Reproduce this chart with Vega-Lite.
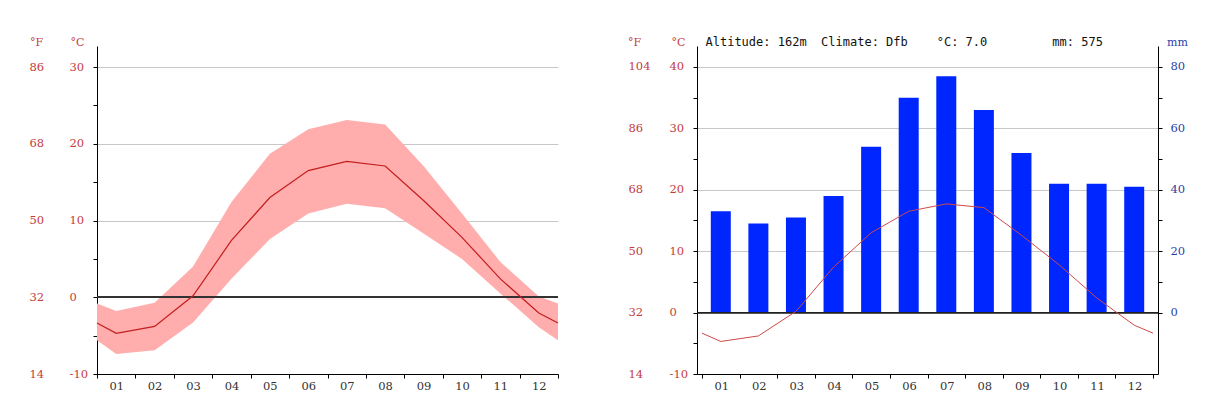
{
  "$schema": "https://vega.github.io/schema/vega-lite/v6.json",
  "background": "white",
  "padding": {"left": 29, "top": 35, "right": 10, "bottom": 10},
  "config": {
    "view": {"stroke": null},
    "font": "DejaVu Serif",
    "axis": {"labelFont": "DejaVu Serif", "titleFont": "DejaVu Serif", "domainColor": "#000", "tickColor": "#000", "titleFontWeight": "normal", "labelFontSize": 11.5, "titleFontSize": 11}
  },
  "data": {"values": [
    {"month": 0.5, "tmean": -3.35, "tmax": -0.8, "tmin": -5.6, "precip": null},
    {"month": 1, "tmean": -4.7, "tmax": -1.8, "tmin": -7.4, "precip": 33},
    {"month": 2, "tmean": -3.8, "tmax": -0.7, "tmin": -6.9, "precip": 29},
    {"month": 3, "tmean": 0.2, "tmax": 4.0, "tmin": -3.3, "precip": 31},
    {"month": 4, "tmean": 7.4, "tmax": 12.4, "tmin": 2.4, "precip": 38},
    {"month": 5, "tmean": 13.0, "tmax": 18.7, "tmin": 7.6, "precip": 54},
    {"month": 6, "tmean": 16.5, "tmax": 21.9, "tmin": 10.9, "precip": 70},
    {"month": 7, "tmean": 17.7, "tmax": 23.1, "tmin": 12.2, "precip": 77},
    {"month": 8, "tmean": 17.1, "tmax": 22.5, "tmin": 11.6, "precip": 66},
    {"month": 9, "tmean": 12.6, "tmax": 17.1, "tmin": 8.3, "precip": 52},
    {"month": 10, "tmean": 7.8, "tmax": 10.9, "tmin": 5.0, "precip": 42},
    {"month": 11, "tmean": 2.4, "tmax": 4.6, "tmin": 0.5, "precip": 42},
    {"month": 12, "tmean": -2.05, "tmax": 0.1, "tmin": -3.9, "precip": 41},
    {"month": 12.5, "tmean": -3.35, "tmax": -0.8, "tmin": -5.6, "precip": null}
  ]},
  "spacing": 49,
  "hconcat": [
    {
      "width": 461,
      "height": 328,
      "layer": [
        {
          "mark": {"type": "area", "color": "#ffadad", "opacity": 1},
          "encoding": {
            "x": {"field": "month", "type": "quantitative", "scale": {"domain": [0.5, 12.5], "nice": false, "zero": false},
              "axis": {"values": [0.5, 1.5, 2.5, 3.5, 4.5, 5.5, 6.5, 7.5, 8.5, 9.5, 10.5, 11.5, 12.5], "labelExpr": "datum.value < 12 ? ((datum.value + 0.5 < 10 ? '0' : '') + (datum.value + 0.5)) : ''", "labelOffset": 19.2, "tickSize": 4, "labelPadding": 2, "labelColor": "#333", "grid": false, "title": null, "labelOverlap": false, "labelBound": false, "labelFlush": false}},
            "y": {"field": "tmax", "type": "quantitative", "scale": {"domain": [-10, 32.74], "nice": false, "zero": false},
              "axis": {"orient": "left", "values": [-10, -5, 0, 5, 10, 15, 20, 25, 30], "labelExpr": "datum.value % 10 == 0 ? '' + datum.value : ''", "labelAlign": "left", "labelBaseline": "middle", "tickSize": 4, "labelPadding": 24, "labelColor": "#c43c3c", "title": "°C", "titleAngle": 0, "titleAlign": "center", "titleBaseline": "alphabetic", "titleX": -20, "titleY": -1, "titleColor": "#c43c3c", "grid": true, "gridColor": "#c8c8c8", "gridOpacity": {"condition": {"test": "datum.value % 10 == 0 && datum.value > 0", "value": 1}, "value": 0}, "labelOverlap": false, "labelFlush": false}},
            "y2": {"field": "tmin"}
          }
        },
        {
          "mark": {"type": "rule", "color": "#333", "strokeWidth": 1},
          "encoding": {"y": {"datum": 0, "type": "quantitative", "scale": {"domain": [-10, 32.74], "nice": false, "zero": false}, "axis": null}}
        },
        {
          "mark": {"type": "line", "color": "#c41e1e", "strokeWidth": 1.2},
          "encoding": {
            "x": {"field": "month", "type": "quantitative", "scale": {"domain": [0.5, 12.5], "nice": false, "zero": false},
              "axis": {"values": [0.5, 1.5, 2.5, 3.5, 4.5, 5.5, 6.5, 7.5, 8.5, 9.5, 10.5, 11.5, 12.5], "labelExpr": "datum.value < 12 ? ((datum.value + 0.5 < 10 ? '0' : '') + (datum.value + 0.5)) : ''", "labelOffset": 19.2, "tickSize": 4, "labelPadding": 2, "labelColor": "#333", "grid": false, "title": null, "labelOverlap": false, "labelBound": false, "labelFlush": false}},
            "y": {"field": "tmean", "type": "quantitative", "scale": {"domain": [-10, 32.74], "nice": false, "zero": false},
              "axis": {"orient": "left", "values": [-10, 0, 10, 20, 30], "labelExpr": "'' + round(datum.value * 1.8 + 32)", "labelAlign": "left", "labelBaseline": "middle", "ticks": false, "tickSize": 0, "domain": false, "labelPadding": 68, "labelColor": "#c43c3c", "title": "°F", "titleAngle": 0, "titleAlign": "center", "titleBaseline": "alphabetic", "titleX": -61, "titleY": -1, "titleColor": "#c43c3c", "grid": false, "labelOverlap": false, "labelFlush": false}}
          }
        }
      ],
      "resolve": {"scale": {"y": "independent"}, "axis": {"y": "independent"}}
    },
    {
      "width": 461,
      "height": 328,
      "layer": [
        {
          "mark": {"type": "bar", "color": "#0026ff", "width": 20},
          "encoding": {
            "x": {"field": "month", "type": "quantitative", "scale": {"domain": [0.5, 12.5], "nice": false, "zero": false},
              "axis": {"values": [0.5, 1.5, 2.5, 3.5, 4.5, 5.5, 6.5, 7.5, 8.5, 9.5, 10.5, 11.5, 12.5], "labelExpr": "datum.value < 12 ? ((datum.value + 0.5 < 10 ? '0' : '') + (datum.value + 0.5)) : ''", "labelOffset": 19.2, "tickSize": 4, "labelPadding": 2, "labelColor": "#333", "grid": false, "title": null, "labelOverlap": false, "labelBound": false, "labelFlush": false}},
            "y": {"field": "precip", "type": "quantitative", "scale": {"domain": [-20, 86.84], "nice": false, "zero": false},
              "axis": {"orient": "right", "values": [0, 10, 20, 30, 40, 50, 60, 70, 80], "labelExpr": "datum.value % 20 == 0 ? '' + datum.value : ''", "labelAlign": "left", "labelBaseline": "middle", "tickSize": 4, "labelPadding": 8, "labelColor": "#2b3fa8", "title": "mm", "titleAngle": 0, "titleAlign": "center", "titleBaseline": "alphabetic", "titleX": 19, "titleY": -1, "titleColor": "#2b3fa8", "grid": false, "labelOverlap": false, "labelFlush": false}},
            "y2": {"datum": 0}
          }
        },
        {
          "mark": {"type": "rule", "color": "#222", "strokeWidth": 1},
          "encoding": {"y": {"datum": 0, "type": "quantitative", "scale": {"domain": [-10, 43.42], "nice": false, "zero": false}, "axis": null}}
        },
        {
          "mark": {"type": "line", "color": "#d04848", "strokeWidth": 1},
          "encoding": {
            "x": {"field": "month", "type": "quantitative", "scale": {"domain": [0.5, 12.5], "nice": false, "zero": false},
              "axis": {"values": [0.5, 1.5, 2.5, 3.5, 4.5, 5.5, 6.5, 7.5, 8.5, 9.5, 10.5, 11.5, 12.5], "labelExpr": "datum.value < 12 ? ((datum.value + 0.5 < 10 ? '0' : '') + (datum.value + 0.5)) : ''", "labelOffset": 19.2, "tickSize": 4, "labelPadding": 2, "labelColor": "#333", "grid": false, "title": null, "labelOverlap": false, "labelBound": false, "labelFlush": false}},
            "y": {"field": "tmean", "type": "quantitative", "scale": {"domain": [-10, 43.42], "nice": false, "zero": false},
              "axis": {"orient": "left", "values": [-10, -5, 0, 5, 10, 15, 20, 25, 30, 35, 40], "labelExpr": "datum.value % 10 == 0 ? '' + datum.value : ''", "labelAlign": "left", "labelBaseline": "middle", "tickSize": 4, "labelPadding": 24, "labelColor": "#c43c3c", "title": "°C", "titleAngle": 0, "titleAlign": "center", "titleBaseline": "alphabetic", "titleX": -19, "titleY": -1, "titleColor": "#c43c3c", "grid": true, "gridColor": "#c8c8c8", "gridOpacity": {"condition": {"test": "datum.value % 10 == 0 && datum.value > 0", "value": 1}, "value": 0}, "labelOverlap": false, "labelFlush": false}}
          }
        },
        {
          "mark": {"type": "line", "opacity": 0},
          "encoding": {
            "x": {"field": "month", "type": "quantitative", "scale": {"domain": [0.5, 12.5], "nice": false, "zero": false},
              "axis": {"values": [0.5, 1.5, 2.5, 3.5, 4.5, 5.5, 6.5, 7.5, 8.5, 9.5, 10.5, 11.5, 12.5], "labelExpr": "datum.value < 12 ? ((datum.value + 0.5 < 10 ? '0' : '') + (datum.value + 0.5)) : ''", "labelOffset": 19.2, "tickSize": 4, "labelPadding": 2, "labelColor": "#333", "grid": false, "title": null, "labelOverlap": false, "labelBound": false, "labelFlush": false}},
            "y": {"field": "tmean", "type": "quantitative", "scale": {"domain": [-10, 43.42], "nice": false, "zero": false},
              "axis": {"orient": "left", "values": [-10, 0, 10, 20, 30, 40], "labelExpr": "'' + round(datum.value * 1.8 + 32)", "labelAlign": "left", "labelBaseline": "middle", "ticks": false, "tickSize": 0, "domain": false, "labelPadding": 69, "labelColor": "#c43c3c", "title": "°F", "titleAngle": 0, "titleAlign": "center", "titleBaseline": "alphabetic", "titleX": -63, "titleY": -1, "titleColor": "#c43c3c", "grid": false, "labelOverlap": false, "labelFlush": false}}
          }
        },
        {
          "mark": {"type": "line", "opacity": 0},
          "encoding": {
            "x": {"field": "month", "type": "quantitative", "scale": {"domain": [0.5, 12.5], "nice": false, "zero": false},
              "axis": {"values": [0.5, 1.5, 2.5, 3.5, 4.5, 5.5, 6.5, 7.5, 8.5, 9.5, 10.5, 11.5, 12.5], "labelExpr": "datum.value < 12 ? ((datum.value + 0.5 < 10 ? '0' : '') + (datum.value + 0.5)) : ''", "labelOffset": 19.2, "tickSize": 4, "labelPadding": 2, "labelColor": "#333", "grid": false, "title": null, "labelOverlap": false, "labelBound": false, "labelFlush": false}},
            "y": {"field": "tmean", "type": "quantitative", "scale": {"domain": [-10, 43.42], "nice": false, "zero": false},
              "axis": {"orient": "left", "domain": false, "ticks": false, "labels": false, "grid": false, "title": "Altitude: 162m\u00a0\u00a0Climate: Dfb\u00a0\u00a0\u00a0\u00a0°C: 7.0\u00a0\u00a0\u00a0\u00a0\u00a0\u00a0\u00a0\u00a0\u00a0mm: 575", "titleAngle": 0, "titleAlign": "left", "titleBaseline": "alphabetic", "titleX": 8, "titleY": -1, "titleFont": "DejaVu Sans Mono", "titleFontSize": 12, "titleColor": "#111"}}
          }
        }
      ],
      "resolve": {"scale": {"y": "independent"}, "axis": {"y": "independent"}}
    }
  ]
}
